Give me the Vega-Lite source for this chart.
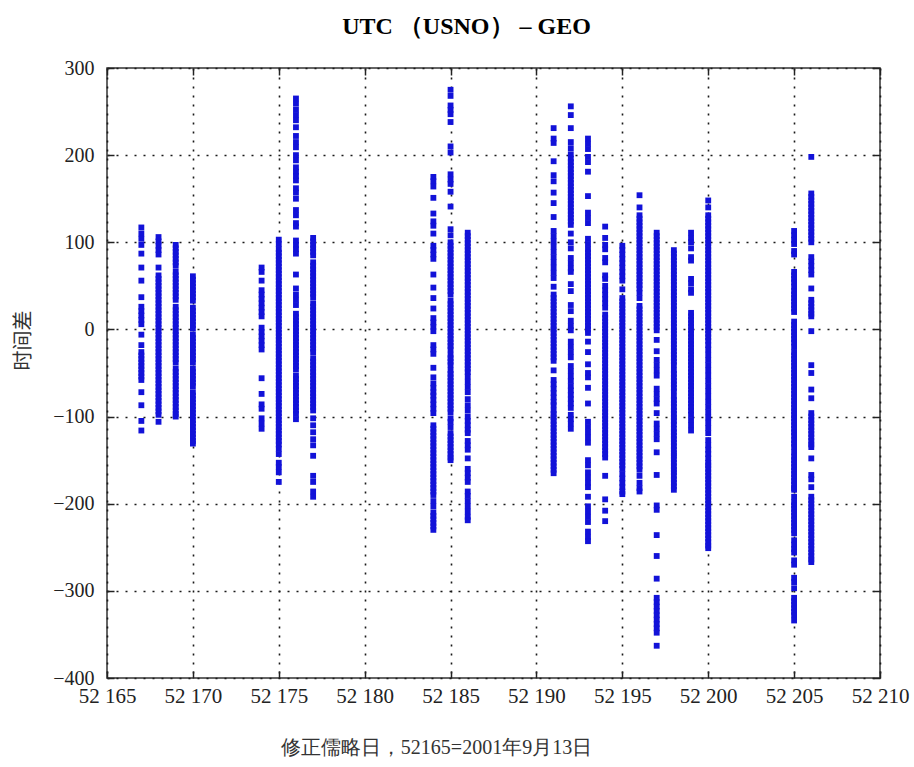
{
  "$schema": "https://vega.github.io/schema/vega-lite/v6.json",
  "width": 773,
  "height": 610,
  "autosize": {"type": "none"},
  "padding": {"left": 107, "top": 68, "right": 34, "bottom": 89},
  "background": "white",
  "title": {
    "text": "UTC （USNO） – GEO",
    "font": "Liberation Serif",
    "fontSize": 24,
    "fontWeight": "bold",
    "color": "#000000",
    "anchor": "middle",
    "frame": "group",
    "dx": -27,
    "offset": 0,
    "baseline": "alphabetic"
  },
  "datasets": {
    "obs": [
      {"d": 52167, "v": [117,110,104,97,87,71,56,37,26,21,16,11,6,-6,-18,-26,-30,-34,-38,-42,-46,-50,-54,-58,-72,-87,-105,-116]},
      {"d": 52168, "v": [106,101,96,91,86,71,62,58,54,50,46,42,38,34,30,26,22,18,14,10,6,2,-2,-6,-10,-14,-18,-22,-26,-30,-34,-38,-42,-46,-50,-54,-58,-62,-66,-70,-74,-78,-82,-86,-90,-94,-98,-106]},
      {"d": 52169, "v": [97,93,89,85,81,77,73,66,62,58,54,50,46,42,38,34,26,22,18,14,10,6,2,-2,-6,-10,-14,-18,-22,-26,-30,-34,-38,-45,-49,-53,-57,-61,-65,-69,-73,-77,-81,-85,-89,-93,-97,-100]},
      {"d": 52170, "v": [61,57,53,49,45,41,37,33,25,21,17,13,9,5,1,-6,-10,-14,-18,-22,-26,-30,-34,-38,-45,-49,-53,-57,-61,-65,-72,-76,-80,-84,-88,-92,-96,-100,-104,-108,-112,-116,-120,-124,-128,-131]},
      {"d": 52174, "v": [71,66,56,45,40,35,30,25,20,15,2,-3,-8,-13,-18,-23,-56,-74,-86,-91,-102,-108,-114]},
      {"d": 52175, "v": [103,98,92,88,84,80,76,72,68,64,60,56,52,48,44,40,36,32,28,24,20,16,12,8,4,0,-4,-8,-12,-16,-20,-24,-28,-32,-36,-40,-44,-48,-52,-56,-60,-64,-68,-72,-76,-80,-84,-88,-92,-96,-100,-104,-108,-112,-116,-120,-124,-128,-132,-137,-143,-153,-158,-164,-175]},
      {"d": 52176, "v": [265,259,252,246,240,232,222,215,209,200,194,186,181,176,171,162,157,150,137,131,122,118,102,97,92,87,63,47,40,34,28,18,14,10,6,2,-2,-6,-10,-14,-18,-22,-26,-30,-34,-38,-42,-46,-53,-57,-61,-65,-69,-73,-77,-81,-85,-89,-93,-97,-103]},
      {"d": 52177, "v": [105,101,97,93,89,85,77,73,69,65,61,57,53,49,45,41,37,30,26,22,18,14,10,6,2,-2,-6,-10,-14,-18,-22,-26,-33,-37,-41,-45,-49,-53,-57,-61,-65,-69,-73,-77,-81,-85,-89,-93,-102,-110,-118,-126,-133,-145,-168,-175,-186,-192]},
      {"d": 52184, "v": [175,170,164,151,133,124,119,110,96,91,86,81,63,48,36,24,13,8,3,-2,-18,-23,-28,-44,-55,-62,-67,-72,-76,-81,-86,-91,-96,-110,-114,-118,-122,-126,-130,-134,-138,-142,-146,-150,-154,-158,-162,-166,-170,-174,-178,-182,-186,-190,-197,-203,-210,-214,-218,-222,-226,-230]},
      {"d": 52185, "v": [275,268,257,252,247,238,210,203,178,172,167,158,141,115,108,100,96,92,88,84,80,76,72,68,64,60,56,52,48,44,40,33,29,25,21,17,13,9,5,1,-3,-7,-11,-15,-19,-23,-29,-33,-37,-41,-47,-51,-55,-59,-63,-67,-71,-75,-79,-83,-87,-91,-95,-102,-106,-112,-119,-123,-127,-131,-135,-139,-143,-147,-150]},
      {"d": 52186, "v": [111,107,103,99,95,91,87,83,79,75,71,67,63,59,55,51,47,43,39,35,31,27,23,19,15,11,7,3,-1,-5,-9,-13,-17,-21,-25,-29,-33,-37,-41,-45,-49,-54,-60,-66,-72,-80,-87,-93,-100,-105,-110,-115,-119,-128,-133,-138,-148,-160,-165,-170,-175,-186,-191,-197,-203,-209,-215,-219]},
      {"d": 52191, "v": [231,219,214,193,177,170,157,145,129,113,107,101,95,89,83,77,71,65,59,49,40,36,32,28,24,20,16,12,8,4,0,-4,-8,-12,-16,-20,-24,-28,-32,-36,-47,-58,-63,-68,-73,-78,-83,-87,-93,-97,-101,-105,-109,-113,-117,-121,-125,-129,-133,-137,-141,-145,-149,-153,-157,-161,-165]},
      {"d": 52192, "v": [256,246,231,215,208,201,196,192,188,184,180,176,172,168,164,160,156,152,148,144,140,136,132,128,124,120,110,100,93,82,76,70,66,52,44,28,21,10,4,-1,-14,-20,-26,-32,-42,-48,-54,-59,-65,-70,-75,-80,-85,-90,-98,-103,-108,-114]},
      {"d": 52193, "v": [219,213,207,198,192,181,153,134,128,122,104,98,92,88,84,80,76,72,68,64,60,56,52,48,44,40,36,32,28,24,20,16,12,8,4,0,-4,-14,-26,-40,-50,-55,-67,-85,-106,-112,-118,-124,-130,-150,-156,-164,-170,-176,-181,-192,-203,-209,-215,-221,-232,-238,-243]},
      {"d": 52194, "v": [118,105,97,92,82,77,62,58,50,45,40,35,30,25,17,13,9,5,1,-3,-7,-11,-15,-19,-23,-27,-31,-35,-39,-43,-47,-51,-55,-59,-63,-67,-71,-75,-79,-83,-87,-91,-95,-99,-103,-107,-111,-115,-119,-123,-127,-131,-135,-139,-143,-147,-168,-195,-208,-220]},
      {"d": 52195, "v": [96,91,86,81,76,71,66,61,56,46,36,32,28,24,20,16,12,8,4,0,-4,-8,-12,-16,-20,-24,-28,-32,-36,-40,-44,-48,-52,-56,-60,-64,-68,-72,-76,-80,-84,-88,-92,-96,-100,-104,-108,-112,-116,-120,-124,-128,-132,-136,-140,-144,-148,-152,-156,-160,-166,-171,-176,-181,-186,-189]},
      {"d": 52196, "v": [154,140,131,127,123,119,115,111,107,103,99,95,91,87,83,79,75,71,67,63,59,55,51,47,42,36,27,23,19,15,11,7,3,-1,-5,-9,-13,-17,-21,-25,-29,-33,-37,-41,-45,-49,-53,-57,-61,-65,-69,-73,-77,-81,-85,-89,-93,-97,-101,-105,-109,-113,-117,-121,-125,-129,-133,-137,-141,-145,-149,-153,-157,-161,-168,-176,-182,-186]},
      {"d": 52197, "v": [111,107,103,99,95,91,87,83,79,75,71,67,63,59,55,51,47,43,39,35,31,27,23,19,15,11,7,3,-1,-12,-25,-35,-41,-47,-53,-68,-74,-80,-85,-96,-108,-114,-120,-126,-141,-167,-202,-207,-236,-260,-286,-308,-313,-318,-323,-328,-333,-338,-343,-348,-363]},
      {"d": 52198, "v": [91,87,83,79,75,71,67,63,59,55,51,47,43,39,35,31,27,23,19,15,11,7,3,-1,-5,-9,-13,-17,-21,-25,-29,-33,-37,-41,-47,-51,-55,-59,-63,-67,-71,-77,-81,-85,-89,-93,-97,-101,-105,-109,-114,-118,-122,-126,-130,-134,-138,-142,-145,-149,-153,-157,-161,-164,-168,-172,-176,-180,-184]},
      {"d": 52199, "v": [111,105,100,93,83,79,58,53,46,42,19,15,11,7,3,-1,-5,-9,-13,-17,-21,-25,-29,-33,-37,-41,-45,-49,-53,-57,-61,-65,-69,-73,-77,-81,-85,-89,-93,-98,-104,-110,-116]},
      {"d": 52200, "v": [148,140,131,127,123,119,115,111,107,103,99,95,91,87,83,79,75,71,67,63,59,55,51,47,43,39,35,31,27,23,19,15,11,7,3,-1,-5,-9,-13,-18,-23,-29,-35,-41,-47,-53,-59,-65,-71,-77,-83,-89,-95,-101,-107,-113,-119,-127,-133,-138,-143,-148,-153,-156,-160,-164,-168,-172,-176,-180,-184,-188,-192,-196,-200,-204,-208,-212,-216,-220,-224,-228,-232,-236,-240,-244,-248,-251]},
      {"d": 52205, "v": [113,108,103,98,90,86,66,62,58,54,49,44,40,36,32,28,24,20,9,5,1,-3,-7,-11,-15,-20,-26,-30,-34,-38,-42,-46,-50,-54,-58,-62,-66,-70,-74,-78,-82,-86,-90,-94,-98,-102,-106,-110,-114,-118,-122,-127,-131,-135,-141,-146,-150,-154,-158,-162,-166,-170,-174,-178,-182,-184,-192,-198,-202,-206,-210,-214,-218,-222,-226,-230,-234,-242,-247,-252,-256,-265,-270,-285,-290,-297,-308,-312,-316,-320,-324,-328,-334]},
      {"d": 52206, "v": [198,156,152,148,144,140,136,132,128,124,120,116,112,108,104,100,83,78,73,68,63,47,34,30,26,22,18,15,-2,-41,-50,-69,-79,-96,-100,-104,-108,-112,-116,-120,-124,-128,-132,-135,-148,-167,-172,-181,-192,-196,-200,-204,-208,-212,-216,-220,-224,-228,-232,-236,-240,-244,-248,-252,-256,-260,-264,-267]}
    ]
  },
  "data": {"name": "obs"},
  "transform": [{"flatten": ["v"]}],
  "layer": [
    {
      "mark": {"type": "point", "shape": "square", "filled": true, "size": 34, "color": "#1212d8", "opacity": 1},
      "encoding": {
        "x": {
          "field": "d",
          "type": "quantitative",
          "scale": {"domain": [52165, 52210], "nice": false, "zero": false},
          "axis": {
            "orient": "bottom",
            "values": [52165, 52170, 52175, 52180, 52185, 52190, 52195, 52200, 52205, 52210],
            "format": "d",
            "labelExpr": "slice(datum.label, 0, 2) + ' ' + slice(datum.label, 2)",
            "labelOverlap": false,
            "labelBound": false,
            "labelFlush": false,
            "grid": true,
            "gridDash": [2, 7],
            "gridColor": "#1a1a1a",
            "gridWidth": 1.6,
            "domain": false,
            "tickSize": -7,
            "tickColor": "#222222",
            "tickWidth": 1.5,
            "labelPadding": 14,
            "labelFont": "Liberation Serif",
            "labelFontSize": 21,
            "labelColor": "#222222",
            "title": "修正儒略日，52165=2001年9月13日",
            "titleFont": "Liberation Serif",
            "titleFontSize": 20,
            "titleFontWeight": "normal",
            "titleColor": "#333333",
            "titleX": 329,
            "titleY": 69,
            "titleBaseline": "middle",
            "titleAlign": "center"
          }
        },
        "y": {
          "field": "v",
          "type": "quantitative",
          "scale": {"domain": [-400, 300], "nice": false, "zero": false},
          "axis": {
            "orient": "left",
            "values": [-400, -300, -200, -100, 0, 100, 200, 300],
            "format": "d",
            "labelOverlap": false,
            "labelBound": false,
            "grid": true,
            "gridDash": [2, 7],
            "gridColor": "#1a1a1a",
            "gridWidth": 1.6,
            "domain": false,
            "tickSize": -7,
            "tickColor": "#222222",
            "tickWidth": 1.5,
            "labelPadding": 20,
            "labelFont": "Liberation Serif",
            "labelFontSize": 20,
            "labelColor": "#222222",
            "title": "时间差",
            "titleFont": "Noto Sans CJK SC",
            "titleFontSize": 20,
            "titleFontWeight": "normal",
            "titleColor": "#333333",
            "titleX": -84,
            "titleY": 272,
            "titleAngle": 270,
            "titleBaseline": "middle",
            "titleAlign": "center"
          }
        }
      }
    },
    {
      "mark": {"type": "point", "opacity": 0},
      "encoding": {
        "x": {
          "field": "d",
          "type": "quantitative",
          "axis": {
            "orient": "top",
            "values": [52165, 52170, 52175, 52180, 52185, 52190, 52195, 52200, 52205, 52210],
            "labels": false,
            "grid": false,
            "domain": false,
            "tickSize": -7,
            "tickColor": "#222222",
            "tickWidth": 1.5,
            "title": null
          }
        },
        "y": {
          "field": "v",
          "type": "quantitative",
          "axis": {
            "orient": "right",
            "values": [-400, -300, -200, -100, 0, 100, 200, 300],
            "labels": false,
            "grid": false,
            "domain": false,
            "tickSize": -7,
            "tickColor": "#222222",
            "tickWidth": 1.5,
            "title": null
          }
        }
      }
    }
  ],
  "resolve": {"axis": {"x": "independent", "y": "independent"}},
  "config": {
    "view": {"stroke": "#333333", "strokeWidth": 1.5}
  }
}
